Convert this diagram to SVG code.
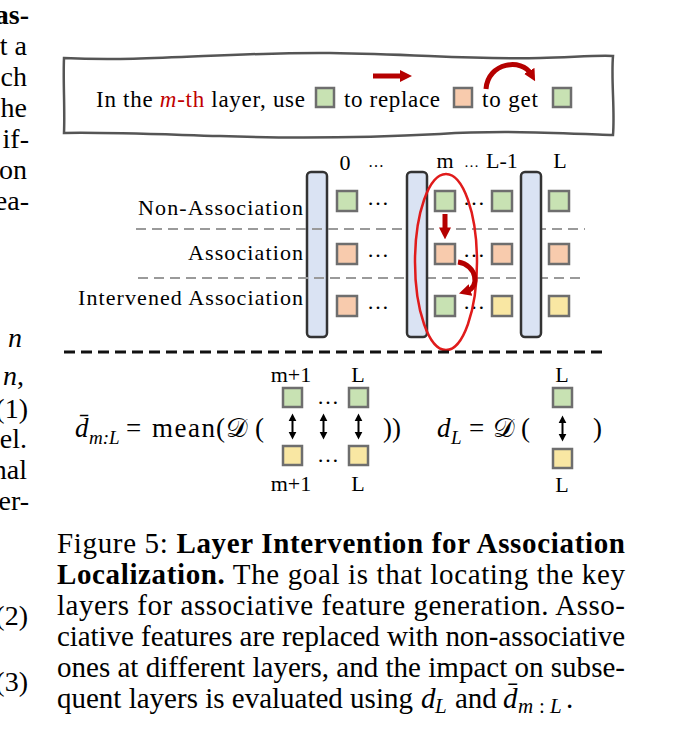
<svg xmlns="http://www.w3.org/2000/svg" width="682" height="753" viewBox="0 0 682 753">
<defs>
<style>
text{font-family:"Liberation Serif","Times New Roman",serif;fill:#000}
.d{font-size:22px}
.lg{font-size:23px}
.cap{font-size:29px}
.mg{font-size:28px}
.b{font-weight:bold}
.i{font-style:italic}
.sq{stroke:#6e6e6e;stroke-width:2.5}
.g{fill:#c8e2b3}
.o{fill:#f8cbad}
.y{fill:#f9e7a3}
.bar{fill:#dae3f3;stroke:#333;stroke-width:2.5}
.gd{stroke:#9a9a9a;stroke-width:2;stroke-dasharray:10 6;fill:none}
.red{stroke:#b50000;fill:none;stroke-width:5}
.dbl{stroke:#000;stroke-width:2;fill:none}
.m{font-size:27px}
.sub{font-size:19px;font-style:italic}
.scr{font-family:"DejaVu Serif","DejaVu Sans",serif}
</style>
<marker id="rh" viewBox="0 0 10 10" refX="3" refY="5" markerWidth="12" markerHeight="13" markerUnits="userSpaceOnUse" orient="auto"><path d="M0,0L10,5L0,10z" fill="#b50000"/></marker>
<marker id="bh" viewBox="0 0 10 10" refX="3" refY="5" markerWidth="8" markerHeight="9" markerUnits="userSpaceOnUse" orient="auto-start-reverse"><path d="M0,0L10,5L0,10z" fill="#000"/></marker>
</defs>
<rect width="682" height="753" fill="#fff"/>

<g id="margin" class="mg" text-anchor="end">
<text x="29" y="24" class="b">as-</text>
<text x="27" y="55">t a</text>
<text x="27" y="86">ch</text>
<text x="27" y="117">he</text>
<text x="29" y="148">if-</text>
<text x="27" y="179">on</text>
<text x="29" y="210">ea-</text>
<text x="22" y="347" class="i">n</text>
<text x="24" y="385"><tspan class="i">n</tspan>,</text>
<text x="28" y="418">(1)</text>
<text x="27" y="448">el.</text>
<text x="27" y="479">nal</text>
<text x="29" y="510">er-</text>
<text x="28" y="625">(2)</text>
<text x="28" y="691">(3)</text>
</g>

<g id="legend">
<path d="M64,58 C150,62 230,52 330,53 C420,54 470,60 540,58 C575,57 600,55 613,56 C611,80 615,110 613,135 C560,133 500,130 440,134 C380,137 300,139 220,136 C150,134 100,132 64,133 C65,110 63,80 64,58 Z" fill="#fff" stroke="#555" stroke-width="2.5"/>
<text x="96" y="107" class="lg" textLength="209" lengthAdjust="spacing">In the <tspan class="i" fill="#c00000">m</tspan><tspan fill="#c00000">-th</tspan> layer, use</text>
<rect x="316" y="88" width="18" height="19" class="sq g"/>
<text x="344" y="107" class="lg" textLength="96" lengthAdjust="spacing">to replace</text>
<rect x="454" y="88" width="18" height="19" class="sq o"/>
<text x="482" y="107" class="lg" textLength="56" lengthAdjust="spacing">to get</text>
<rect x="553" y="88" width="18" height="19" class="sq g"/>
<path d="M373,76 H403.6" class="red" marker-end="url(#rh)"/>
<path d="M486,89 C488,62 522,58 531,74" class="red" marker-end="url(#rh)"/>
</g>

<g id="layer-0">
<rect x="307" y="172" width="20" height="165" rx="4" class="bar"/>
<text x="345" y="170" class="d" text-anchor="middle">0</text>
<text x="368" y="167" style="font-size:16px">…</text>
<rect x="337" y="191" width="20" height="20" class="sq g"/>
<rect x="337" y="244" width="20" height="20" class="sq o"/>
<rect x="337" y="296" width="20" height="20" class="sq o"/>
<text x="367" y="205" class="d">…</text>
<text x="367" y="257" class="d">…</text>
<text x="367" y="309" class="d">…</text>
</g>

<g id="row-labels" class="d">
<text x="138" y="215" textLength="165" lengthAdjust="spacing">Non-Association</text>
<text x="188" y="260" textLength="115" lengthAdjust="spacing">Association</text>
<text x="78" y="305" textLength="225" lengthAdjust="spacing">Intervened Association</text>
</g>

<g id="separators">
<path d="M136,229 H585" class="gd"/>
<path d="M138,278 H585" class="gd"/>
</g>

<g id="layer-m">
<rect x="407" y="172" width="20" height="165" rx="4" class="bar"/>
<text x="445" y="168" class="d" text-anchor="middle">m</text>
<text x="464" y="167" style="font-size:15px">…</text>
<rect x="435" y="191" width="20" height="20" class="sq g"/>
<rect x="435" y="244" width="20" height="20" class="sq o"/>
<rect x="435" y="296" width="20" height="20" class="sq g"/>
<text x="463" y="205" class="d">…</text>
<text x="463" y="257" class="d">…</text>
<text x="463" y="309" class="d">…</text>
</g>

<g id="layer-L-1">
<text x="502" y="168" class="d" text-anchor="middle">L-1</text>
<rect x="492" y="191" width="20" height="20" class="sq g"/>
<rect x="492" y="244" width="20" height="20" class="sq o"/>
<rect x="492" y="296" width="20" height="20" class="sq y"/>
</g>

<g id="layer-L">
<rect x="521" y="172" width="20" height="165" rx="4" class="bar"/>
<text x="560" y="168" class="d" text-anchor="middle">L</text>
<rect x="549" y="191" width="20" height="20" class="sq g"/>
<rect x="549" y="244" width="20" height="20" class="sq o"/>
<rect x="549" y="296" width="20" height="20" class="sq y"/>
</g>

<g id="intervention">
<ellipse cx="446" cy="262" rx="31" ry="88" fill="none" stroke="#e01b1b" stroke-width="2.5"/>
<path d="M445,214 V231" class="red" marker-end="url(#rh)"/>
<path d="M458,262 C477,265 480,287 467,291" class="red" marker-end="url(#rh)"/>
</g>

<path id="divider" d="M64,352 H608" stroke="#111" stroke-width="3" stroke-dasharray="11 6" fill="none"/>

<g id="formula-mean" class="m">
<text x="75" y="437" class="i">d̄</text>
<text x="89" y="444" class="sub">m:L</text>
<text x="126" y="437">=</text>
<text x="152" y="437" textLength="63" lengthAdjust="spacing">mean</text>
<text x="216" y="437">(</text>
<text x="226" y="437" class="scr">𝒟</text>
<text x="255" y="437">(</text>
<text x="291" y="382" class="d" text-anchor="middle">m+1</text>
<text x="358" y="382" class="d" text-anchor="middle">L</text>
<rect x="283" y="388" width="19" height="19" class="sq g"/>
<text x="317" y="404" class="d">…</text>
<rect x="349" y="388" width="19" height="19" class="sq g"/>
<rect x="283" y="446" width="19" height="19" class="sq y"/>
<text x="317" y="462" class="d">…</text>
<rect x="349" y="446" width="19" height="19" class="sq y"/>
<text x="291" y="491" class="d" text-anchor="middle">m+1</text>
<text x="358" y="491" class="d" text-anchor="middle">L</text>
<text x="383" y="437">))</text>
</g>

<g id="formula-dL" class="m">
<text x="437" y="437" class="i">d</text>
<text x="451" y="444" class="sub">L</text>
<text x="469" y="437">=</text>
<text x="493" y="437" class="scr">𝒟</text>
<text x="521" y="437">(</text>
<text x="562" y="382" class="d" text-anchor="middle">L</text>
<rect x="553" y="388" width="19" height="19" class="sq g"/>
<rect x="553" y="449" width="19" height="19" class="sq y"/>
<text x="562" y="492" class="d" text-anchor="middle">L</text>
<text x="593" y="437">)</text>
</g>

<g id="connectors">
<path d="M292.5,419 V434" class="dbl" marker-start="url(#bh)" marker-end="url(#bh)"/>
<path d="M323.5,419 V434" class="dbl" marker-start="url(#bh)" marker-end="url(#bh)"/>
<path d="M358.5,419 V434" class="dbl" marker-start="url(#bh)" marker-end="url(#bh)"/>
<path d="M562.5,421 V436" class="dbl" marker-start="url(#bh)" marker-end="url(#bh)"/>
</g>

<g id="caption" class="cap">
<text x="57" y="553" textLength="568" lengthAdjust="spacing">Figure 5: <tspan class="b">Layer Intervention for Association</tspan></text>
<text x="57" y="584" textLength="568" lengthAdjust="spacing"><tspan class="b">Localization.</tspan> The goal is that locating the key</text>
<text x="57" y="615" textLength="568" lengthAdjust="spacing">layers for associative feature generation. Asso-</text>
<text x="57" y="646" textLength="568" lengthAdjust="spacing">ciative features are replaced with non-associative</text>
<text x="57" y="677" textLength="568" lengthAdjust="spacing">ones at different layers, and the impact on subse-</text>
<text x="57" y="708">quent layers is evaluated using <tspan x="421" class="i">d</tspan><tspan x="435" class="i" font-size="21" dy="5">L</tspan><tspan x="455" dy="-5">and</tspan><tspan x="503" class="i">d̄</tspan><tspan x="518" class="i" font-size="21" dy="5">m</tspan><tspan x="539" font-size="21">:</tspan><tspan x="550" class="i" font-size="21">L</tspan><tspan x="566" dy="-5">.</tspan></text>
</g>
</svg>
